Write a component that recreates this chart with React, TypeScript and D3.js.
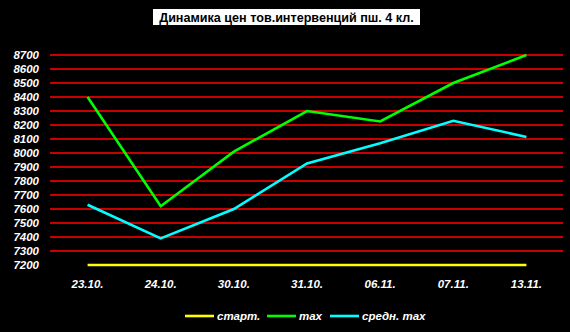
import React from "react";
import * as d3 from "d3";

const categories = ["23.10.", "24.10.", "30.10.", "31.10.", "06.11.", "07.11.", "13.11."];
const startValues = [7200, 7200, 7200, 7200, 7200, 7200, 7200];
const maxValues = [8400, 7620, 8010, 8300, 8225, 8500, 8700];
const avgMaxValues = [7630, 7390, 7600, 7925, 8070, 8230, 8115];
const yTicks = [7200, 7300, 7400, 7500, 7600, 7700, 7800, 7900, 8000, 8100, 8200, 8300, 8400, 8500, 8600, 8700];
const seriesNames = ["старт.", "max", "средн. max"];
const seriesColors = ["#ffff00", "#00ff00", "#00ffff"];

const W = 570;
const H = 332;
const font = "'Liberation Sans', Arial, sans-serif";

export default function App() {
  const x = d3.scaleBand<string>().domain(categories).range([51, 563]);
  const y = d3.scaleLinear().domain([7200, 8700]).range([265, 55]);
  const cx = (c: string) => (x(c) ?? 0) + x.bandwidth() / 2;
  const line = d3
    .line<number>()
    .x((_, i) => cx(categories[i]))
    .y((v) => y(v));
  const series = [startValues, maxValues, avgMaxValues];
  const legendX = [185, 267, 330];
  return (
    <svg width={W} height={H} style={{ position: "absolute", left: 0, top: 0, background: "#000" }}>
      <rect x={0} y={0} width={W} height={H} fill="#000" />
      <rect x={153} y={9} width={267} height={16} fill="#fff" />
      <text x={286.5} y={21.5} textAnchor="middle" fontFamily={font} fontWeight="bold" fontSize={12.6} fill="#000">
        Динамика цен тов.интервенций пш. 4 кл.
      </text>
      {yTicks
        .filter((t) => t !== 7200)
        .map((t) => (
          <line key={t} x1={50} x2={563} y1={Math.round(y(t))} y2={Math.round(y(t))} stroke="#c80000" strokeWidth={2} shapeRendering="crispEdges" />
        ))}
      {yTicks.map((t) => (
        <text key={"l" + t} x={39} y={y(t) + 4} textAnchor="end" fontFamily={font} fontWeight="bold" fontStyle="italic" fontSize={11.5} fill="#fff">
          {t}
        </text>
      ))}
      {categories.map((c) => (
        <text key={c} x={cx(c)} y={288} textAnchor="middle" fontFamily={font} fontWeight="bold" fontStyle="italic" fontSize={11.5} fill="#fff">
          {c}
        </text>
      ))}
      {series.map((s, i) => (
        <path key={i} d={line(s) ?? ""} fill="none" stroke={seriesColors[i]} strokeWidth={2.6} />
      ))}
      {seriesNames.map((n, i) => (
        <g key={n}>
          <line x1={legendX[i]} x2={legendX[i] + 29} y1={316} y2={316} stroke={seriesColors[i]} strokeWidth={2.6} />
          <text x={legendX[i] + 32} y={320} fontFamily={font} fontWeight="bold" fontStyle="italic" fontSize={11.5} fill="#fff">
            {n}
          </text>
        </g>
      ))}
    </svg>
  );
}
